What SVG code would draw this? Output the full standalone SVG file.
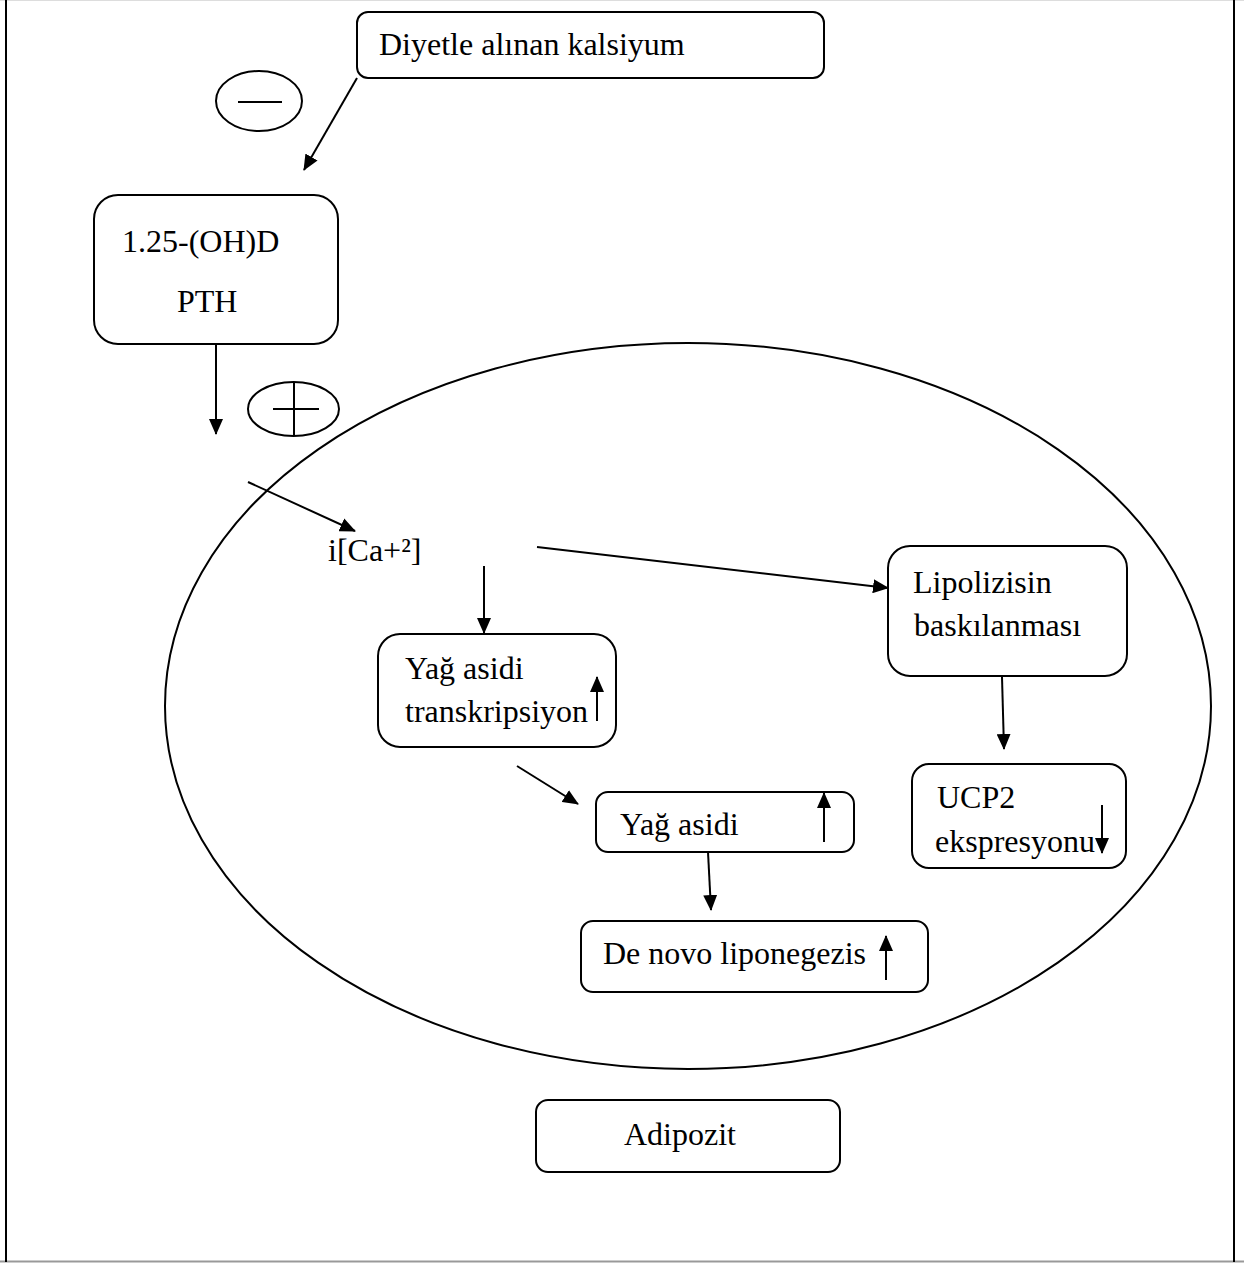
<svg xmlns="http://www.w3.org/2000/svg" width="1244" height="1263" viewBox="0 0 1244 1263">
<style>
.box{fill:#fff;stroke:#000;stroke-width:2}
.t{font-family:"Liberation Serif","Times New Roman",serif;font-size:32px;fill:#000}
.ln{stroke:#000;stroke-width:2;fill:none}
.ar{stroke:#000;stroke-width:2;fill:none}
</style>
<defs>
<marker id="a" viewBox="0 0 16 14" refX="15" refY="7" markerWidth="16" markerHeight="14" markerUnits="userSpaceOnUse" orient="auto">
<path d="M0,0 L16,7 L0,14 z" fill="#000"/>
</marker>
</defs>
<rect width="1244" height="1263" fill="#fff"/>
<line x1="0" y1="0.5" x2="1244" y2="0.5" stroke="#ddd" stroke-width="1"/>
<line x1="0" y1="1261.5" x2="1244" y2="1261.5" stroke="#999" stroke-width="2"/>
<line x1="6" y1="0" x2="6" y2="1262" stroke="#000" stroke-width="2"/>
<line x1="1234" y1="0" x2="1234" y2="1262" stroke="#000" stroke-width="2"/>

<g id="cell">
<ellipse cx="688" cy="706" rx="523" ry="363" class="ln"/>
</g>

<g id="diyet">
<rect x="357" y="12" width="467" height="66" rx="11" class="box"/>
<text x="379" y="55" class="t">Diyetle alınan kalsiyum</text>
</g>

<g id="minus">
<ellipse cx="259" cy="101" rx="43" ry="30" class="ln"/>
<line x1="238" y1="102" x2="282" y2="102" class="ln"/>
</g>

<g id="hormones">
<rect x="94" y="195" width="244" height="149" rx="24" class="box"/>
<text x="122" y="252" class="t">1.25-(OH)D</text>
<text x="177" y="312" class="t">PTH</text>
</g>

<g id="plus">
<ellipse cx="293.5" cy="409" rx="45.5" ry="27" class="ln"/>
<line x1="273" y1="409" x2="319" y2="409" class="ln"/>
<line x1="294" y1="382" x2="294" y2="435" class="ln"/>
</g>

<g id="ca">
<text x="328" y="561" class="t">i[Ca+²]</text>
</g>

<g id="transkripsiyon">
<rect x="378" y="634" width="238" height="113" rx="22" class="box"/>
<text x="405" y="679" class="t">Yağ asidi</text>
<text x="405" y="722" class="t">transkripsiyon</text>
<line x1="597" y1="721" x2="597" y2="677" class="ar" marker-end="url(#a)"/>
</g>

<g id="yagasidi">
<rect x="596" y="792" width="258" height="60" rx="12" class="box"/>
<text x="620" y="835" class="t">Yağ asidi</text>
<line x1="824" y1="842" x2="824" y2="793" class="ar" marker-end="url(#a)"/>
</g>

<g id="denovo">
<rect x="581" y="921" width="347" height="71" rx="12" class="box"/>
<text x="603" y="964" class="t">De novo liponegezis</text>
<line x1="886" y1="980" x2="886" y2="936" class="ar" marker-end="url(#a)"/>
</g>

<g id="lipoliz">
<rect x="888" y="546" width="239" height="130" rx="22" class="box"/>
<text x="913" y="593" class="t">Lipolizisin</text>
<text x="914" y="636" class="t">baskılanması</text>
</g>

<g id="ucp2">
<rect x="912" y="764" width="214" height="104" rx="17" class="box"/>
<text x="937" y="808" class="t">UCP2</text>
<text x="935" y="852" class="t">ekspresyonu</text>
<line x1="1102" y1="805" x2="1102" y2="853" class="ar" marker-end="url(#a)"/>
</g>

<g id="adipozit">
<rect x="536" y="1100" width="304" height="72" rx="12" class="box"/>
<text x="624" y="1145" class="t">Adipozit</text>
</g>

<g id="connectors">
<line x1="357" y1="78" x2="304" y2="170" class="ar" marker-end="url(#a)"/>
<line x1="216" y1="344" x2="216" y2="434" class="ar" marker-end="url(#a)"/>
<line x1="248" y1="482" x2="355" y2="531" class="ar" marker-end="url(#a)"/>
<line x1="484" y1="566" x2="484" y2="633" class="ar" marker-end="url(#a)"/>
<line x1="537" y1="547" x2="888" y2="588" class="ar" marker-end="url(#a)"/>
<line x1="517" y1="766" x2="578" y2="804" class="ar" marker-end="url(#a)"/>
<line x1="708" y1="852" x2="711" y2="910" class="ar" marker-end="url(#a)"/>
<line x1="1002" y1="677" x2="1004" y2="749" class="ar" marker-end="url(#a)"/>
</g>
</svg>
